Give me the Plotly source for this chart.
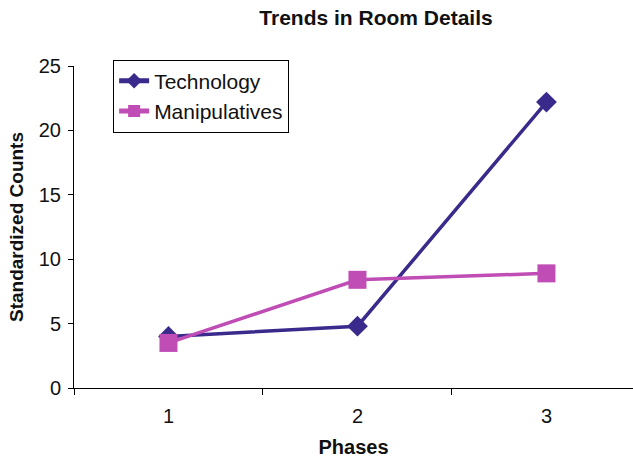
import plotly.graph_objects as go

# Room-detail counts per phase
phases = [1, 2, 3]
technology = [4.0, 4.8, 22.2]
manipulatives = [3.5, 8.4, 8.9]
y_ticks = [0, 5, 10, 15, 20, 25]
phase_edges = [0.5, 1.5, 2.5, 3.5]

TECH_COLOR = "#3A2A8C"
MANIP_COLOR = "#BF4DB5"

fig = go.Figure()
fig.add_trace(go.Scatter(
    x=phases, y=technology, name="Technology", mode="lines+markers",
    line=dict(color=TECH_COLOR, width=3.5),
    marker=dict(symbol="diamond", size=16, color=TECH_COLOR),
))
fig.add_trace(go.Scatter(
    x=phases, y=manipulatives, name="Manipulatives", mode="lines+markers",
    line=dict(color=MANIP_COLOR, width=3.5),
    marker=dict(symbol="square", size=18, color=MANIP_COLOR),
))

fig.update_layout(
    width=633, height=458,
    margin=dict(l=74, r=0, t=66, b=70),
    plot_bgcolor="white", paper_bgcolor="white",
    font=dict(family="Liberation Sans, Arial, sans-serif", color="#111111", size=20),
    title=dict(text="<b>Trends in Room Details</b>", xref="container", x=0.594,
               xanchor="center", y=0.962, yanchor="middle", font=dict(size=21)),
    showlegend=True,
    legend=dict(x=0.07, y=1.02, xanchor="left", yanchor="top",
                bordercolor="black", borderwidth=1, bgcolor="white",
                font=dict(size=21), itemsizing="constant", tracegroupgap=0),
)
fig.update_xaxes(
    range=[0.5, 3.458], tickvals=phases, ticks="", showline=True,
    linecolor="black", linewidth=1, showgrid=False, zeroline=False,
    ticklabelstandoff=10,
    minor=dict(tickvals=phase_edges, ticks="outside", ticklen=6,
               tickcolor="black", showgrid=False),
    title=dict(text="<b>Phases</b>", standoff=14, font=dict(size=20)),
)
fig.update_yaxes(
    range=[0, 25], tickvals=y_ticks, ticks="outside", ticklen=5,
    tickcolor="black", showline=True, linecolor="black", linewidth=1,
    showgrid=False, zeroline=False, ticklabelstandoff=3,
    title=dict(text="<b>Standardized Counts</b>", standoff=10, font=dict(size=19)),
)

fig.write_html("out.html")
